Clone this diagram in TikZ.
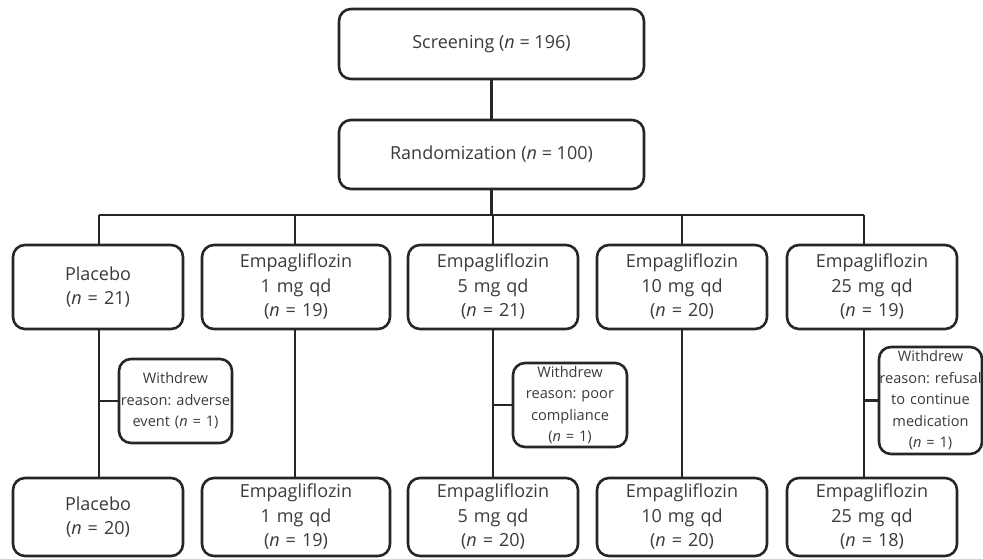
\documentclass[tikz,border=0pt]{standalone}
\usepackage{fontspec}
\setmainfont{Open Sans}
\definecolor{txt}{HTML}{3A3A3A}
\newcommand{\nn}{\textit{n}}
\frenchspacing
\begin{document}
\begin{tikzpicture}[x=1pt,y=-1pt,
  box/.style={draw=black!85, line width=2.6pt, rounded corners=12pt, inner sep=0pt,
    align=center, text=txt, font=\frenchspacing\fontsize{18}{24.5}\selectfont},
  wbox/.style={draw=black!85, line width=2.6pt, rounded corners=12pt, inner sep=0pt,
    align=center, text=txt, font=\frenchspacing\fontsize{14.6}{21.5}\selectfont},
  conn/.style={draw=black!85, line width=2.2pt}]
\useasboundingbox (0,0) rectangle (983,558);
% top
\node[box, minimum width=305pt, minimum height=70pt] (scr) at (491.5,44) {Screening (\nn{} = 196)};
\node[box, minimum width=305pt, minimum height=69pt] (rand) at (491.5,154.5) {Randomization (\nn{} = 100)};
% arms
\node[box, minimum width=170pt, minimum height=84pt, text width=170pt] (p1) at (98,287) {Placebo\\(\nn{} = 21)};
\node[box, minimum width=188pt, minimum height=84pt, text width=188pt] (e1) at (296,287) {Empagliflozin\\1 mg qd\\(\nn{} = 19)};
\node[box, minimum width=170pt, minimum height=84pt, text width=170pt] (e5) at (493,287) {Empagliflozin\\5 mg qd\\(\nn{} = 21)};
\node[box, minimum width=170pt, minimum height=84pt, text width=170pt] (e10) at (682,287) {Empagliflozin\\10 mg qd\\(\nn{} = 20)};
\node[box, minimum width=170pt, minimum height=84pt, text width=170pt] (e25) at (872,287) {Empagliflozin\\25 mg qd\\(\nn{} = 19)};
% bottom
\node[box, minimum width=170pt, minimum height=78pt, text width=170pt] (p1b) at (98,517) {Placebo\\(\nn{} = 20)};
\node[box, minimum width=188pt, minimum height=78pt, text width=188pt] (e1b) at (296,517) {Empagliflozin\\1 mg qd\\(\nn{} = 19)};
\node[box, minimum width=170pt, minimum height=78pt, text width=170pt] (e5b) at (493,517) {Empagliflozin\\5 mg qd\\(\nn{} = 20)};
\node[box, minimum width=170pt, minimum height=78pt, text width=170pt] (e10b) at (682,517) {Empagliflozin\\10 mg qd\\(\nn{} = 20)};
\node[box, minimum width=170pt, minimum height=78pt, text width=170pt] (e25b) at (872,517) {Empagliflozin\\25 mg qd\\(\nn{} = 18)};
% withdrawals
\node[wbox, minimum width=113pt, minimum height=84pt, text width=113pt] (w1) at (175.5,401) {Withdrew\\\mbox{reason: adverse}\\event (\nn{} = 1)};
\node[wbox, minimum width=114pt, minimum height=84pt, text width=114pt] (w2) at (570,405) {Withdrew\\reason: poor\\compliance\\(\nn{} = 1)};
\node[wbox, minimum width=103pt, minimum height=107pt, text width=103pt] (w3) at (930.5,400.5) {Withdrew\\\mbox{reason: refusal}\\to continue\\medication\\(\nn{} = 1)};
% bar coordinates
\coordinate (b1) at (99,215);
\coordinate (b2) at (295,215);
\coordinate (b3) at (493,215);
\coordinate (b4) at (682,215);
\coordinate (b5) at (864,215);
% connectors
\draw[conn] (scr.south) -- (rand.north);
\draw[conn] (rand.south) -- (rand.south |- b1);
\draw[conn] (b1) -- (b5);
\draw[conn] (b1) -- (b1 |- p1.north);
\draw[conn] (b2) -- (b2 |- e1.north);
\draw[conn] (b3) -- (b3 |- e5.north);
\draw[conn] (b4) -- (b4 |- e10.north);
\draw[conn] (b5) -- (b5 |- e25.north);
\draw[conn] (b1 |- p1.south) -- (b1 |- p1b.north);
\draw[conn] (b2 |- e1.south) -- (b2 |- e1b.north);
\draw[conn] (b3 |- e5.south) -- (b3 |- e5b.north);
\draw[conn] (b4 |- e10.south) -- (b4 |- e10b.north);
\draw[conn] (b5 |- e25.south) -- (b5 |- e25b.north);
\draw[conn] (b1 |- w1.west) -- (w1.west);
\draw[conn] (b3 |- w2.west) -- (w2.west);
\draw[conn] (b5 |- w3.west) -- (w3.west);
\end{tikzpicture}
\end{document}
